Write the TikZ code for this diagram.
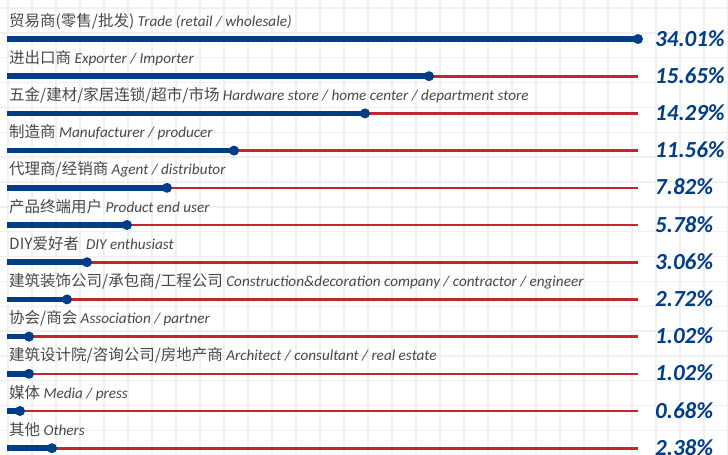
\documentclass[tikz,border=0pt]{standalone}
\usepackage{fontspec}
\setmainfont{Carlito}
\newfontfamily\cjk{Noto Sans CJK SC}
\definecolor{barblue}{RGB}{0,61,135}
\definecolor{barred}{RGB}{196,38,46}
\definecolor{txtgray}{RGB}{72,72,72}
\definecolor{gridgray}{RGB}{240,240,240}
\tikzset{
    gridline/.style={draw=gridgray, line width=1.4pt},
    bluebar/.style={draw=barblue, line width=5.5pt},
    redbar/.style={draw=barred, line width=2.6pt},
    dot/.style={fill=barblue},
    lbl/.style={anchor=base west, inner sep=0pt, text=txtgray, font=\fontsize{15.2}{17}\selectfont},
    pct/.style={anchor=base west, inner sep=0pt, text=barblue, font=\fontsize{23}{26}\selectfont\bfseries\itshape},
  }
\newcommand\lab[2]{{\cjk\fontsize{15.5}{17}\selectfont #1} \textit{#2}}

\begin{document}
\begin{tikzpicture}[x=1pt,y=-1pt]
  %cadre
  \clip (0,0) rectangle (728,455);
  \fill[white] (0,0) rectangle (728,455);
  %quadrillage
  \foreach \gx in {0,...,30} \draw[gridline] ({8+24*\gx},0) -- ({8+24*\gx},455);
  \foreach \gy in {0,...,18} \draw[gridline] (0,{8+24.85*\gy}) -- (728,{8+24.85*\gy});

  %TRADE
  \coordinate (A_0) at (7,39); \coordinate (A) at (638,39); \coordinate (A_1) at (638,39);
  \draw[bluebar] (A_0) -- (A); \fill[dot] (A) circle (5pt);
  \node[lbl] (lA) at (9,26) {\lab{贸易商(零售/批发)}{Trade (retail / wholesale)}};
  \node[pct] (pA) at (655,46) {34.01\%};

  %EXPORTER
  \coordinate (B_0) at (7,76.2); \coordinate (B) at (429,76.2); \coordinate (B_1) at (638,76.2);
  \draw[redbar] (B) -- (B_1); \draw[bluebar] (B_0) -- (B); \fill[dot] (B) circle (5pt);
  \node[lbl] (lB) at (9,63.2) {\lab{进出口商}{Exporter / Importer}};
  \node[pct] (pB) at (655,83.2) {15.65\%};

  %HARDWARE
  \coordinate (C_0) at (7,113.4); \coordinate (C) at (365,113.4); \coordinate (C_1) at (638,113.4);
  \draw[redbar] (C) -- (C_1); \draw[bluebar] (C_0) -- (C); \fill[dot] (C) circle (5pt);
  \node[lbl] (lC) at (9,100.4) {\lab{五金/建材/家居连锁/超市/市场}{Hardware store / home center / department store}};
  \node[pct] (pC) at (655,120.4) {14.29\%};

  %MANUFACTURER
  \coordinate (D_0) at (7,150.6); \coordinate (D) at (234,150.6); \coordinate (D_1) at (638,150.6);
  \draw[redbar] (D) -- (D_1); \draw[bluebar] (D_0) -- (D); \fill[dot] (D) circle (5pt);
  \node[lbl] (lD) at (9,137.6) {\lab{制造商}{Manufacturer / producer}};
  \node[pct] (pD) at (655,157.6) {11.56\%};

  %AGENT
  \coordinate (E_0) at (7,187.8); \coordinate (E) at (167,187.8); \coordinate (E_1) at (638,187.8);
  \draw[redbar] (E) -- (E_1); \draw[bluebar] (E_0) -- (E); \fill[dot] (E) circle (5pt);
  \node[lbl] (lE) at (9,174.8) {\lab{代理商/经销商}{Agent / distributor}};
  \node[pct] (pE) at (655,194.8) {7.82\%};

  %END USER
  \coordinate (F_0) at (7,225); \coordinate (F) at (127,225); \coordinate (F_1) at (638,225);
  \draw[redbar] (F) -- (F_1); \draw[bluebar] (F_0) -- (F); \fill[dot] (F) circle (5pt);
  \node[lbl] (lF) at (9,212) {\lab{产品终端用户}{Product end user}};
  \node[pct] (pF) at (655,232) {5.78\%};

  %DIY
  \coordinate (G_0) at (7,262.2); \coordinate (G) at (87,262.2); \coordinate (G_1) at (638,262.2);
  \draw[redbar] (G) -- (G_1); \draw[bluebar] (G_0) -- (G); \fill[dot] (G) circle (5pt);
  \node[lbl] (lG) at (9,249.2) {\lab{DIY爱好者}{\ DIY enthusiast}};
  \node[pct] (pG) at (655,269.2) {3.06\%};

  %CONSTRUCTION
  \coordinate (H_0) at (7,299.4); \coordinate (H) at (67,299.4); \coordinate (H_1) at (638,299.4);
  \draw[redbar] (H) -- (H_1); \draw[bluebar] (H_0) -- (H); \fill[dot] (H) circle (5pt);
  \node[lbl] (lH) at (9,286.4) {\lab{建筑装饰公司/承包商/工程公司}{Construction\&decoration company / contractor / engineer}};
  \node[pct] (pH) at (655,306.4) {2.72\%};

  %ASSOCIATION
  \coordinate (I_0) at (7,336.6); \coordinate (I) at (29,336.6); \coordinate (I_1) at (638,336.6);
  \draw[redbar] (I) -- (I_1); \draw[bluebar] (I_0) -- (I); \fill[dot] (I) circle (5pt);
  \node[lbl] (lI) at (9,323.6) {\lab{协会/商会}{Association / partner}};
  \node[pct] (pI) at (655,343.6) {1.02\%};

  %ARCHITECT
  \coordinate (J_0) at (7,373.8); \coordinate (J) at (29,373.8); \coordinate (J_1) at (638,373.8);
  \draw[redbar] (J) -- (J_1); \draw[bluebar] (J_0) -- (J); \fill[dot] (J) circle (5pt);
  \node[lbl] (lJ) at (9,360.8) {\lab{建筑设计院/咨询公司/房地产商}{Architect / consultant / real estate}};
  \node[pct] (pJ) at (655,380.8) {1.02\%};

  %MEDIA
  \coordinate (K_0) at (7,411); \coordinate (K) at (20,411); \coordinate (K_1) at (638,411);
  \draw[redbar] (K) -- (K_1); \draw[bluebar] (K_0) -- (K); \fill[dot] (K) circle (5pt);
  \node[lbl] (lK) at (9,398) {\lab{媒体}{Media / press}};
  \node[pct] (pK) at (655,418) {0.68\%};

  %OTHERS
  \coordinate (L_0) at (7,448.2); \coordinate (L) at (52,448.2); \coordinate (L_1) at (638,448.2);
  \draw[redbar] (L) -- (L_1); \draw[bluebar] (L_0) -- (L); \fill[dot] (L) circle (5pt);
  \node[lbl] (lL) at (9,435.2) {\lab{其他}{Others}};
  \node[pct] (pL) at (655,455.2) {2.38\%};
\end{tikzpicture}
\end{document}
